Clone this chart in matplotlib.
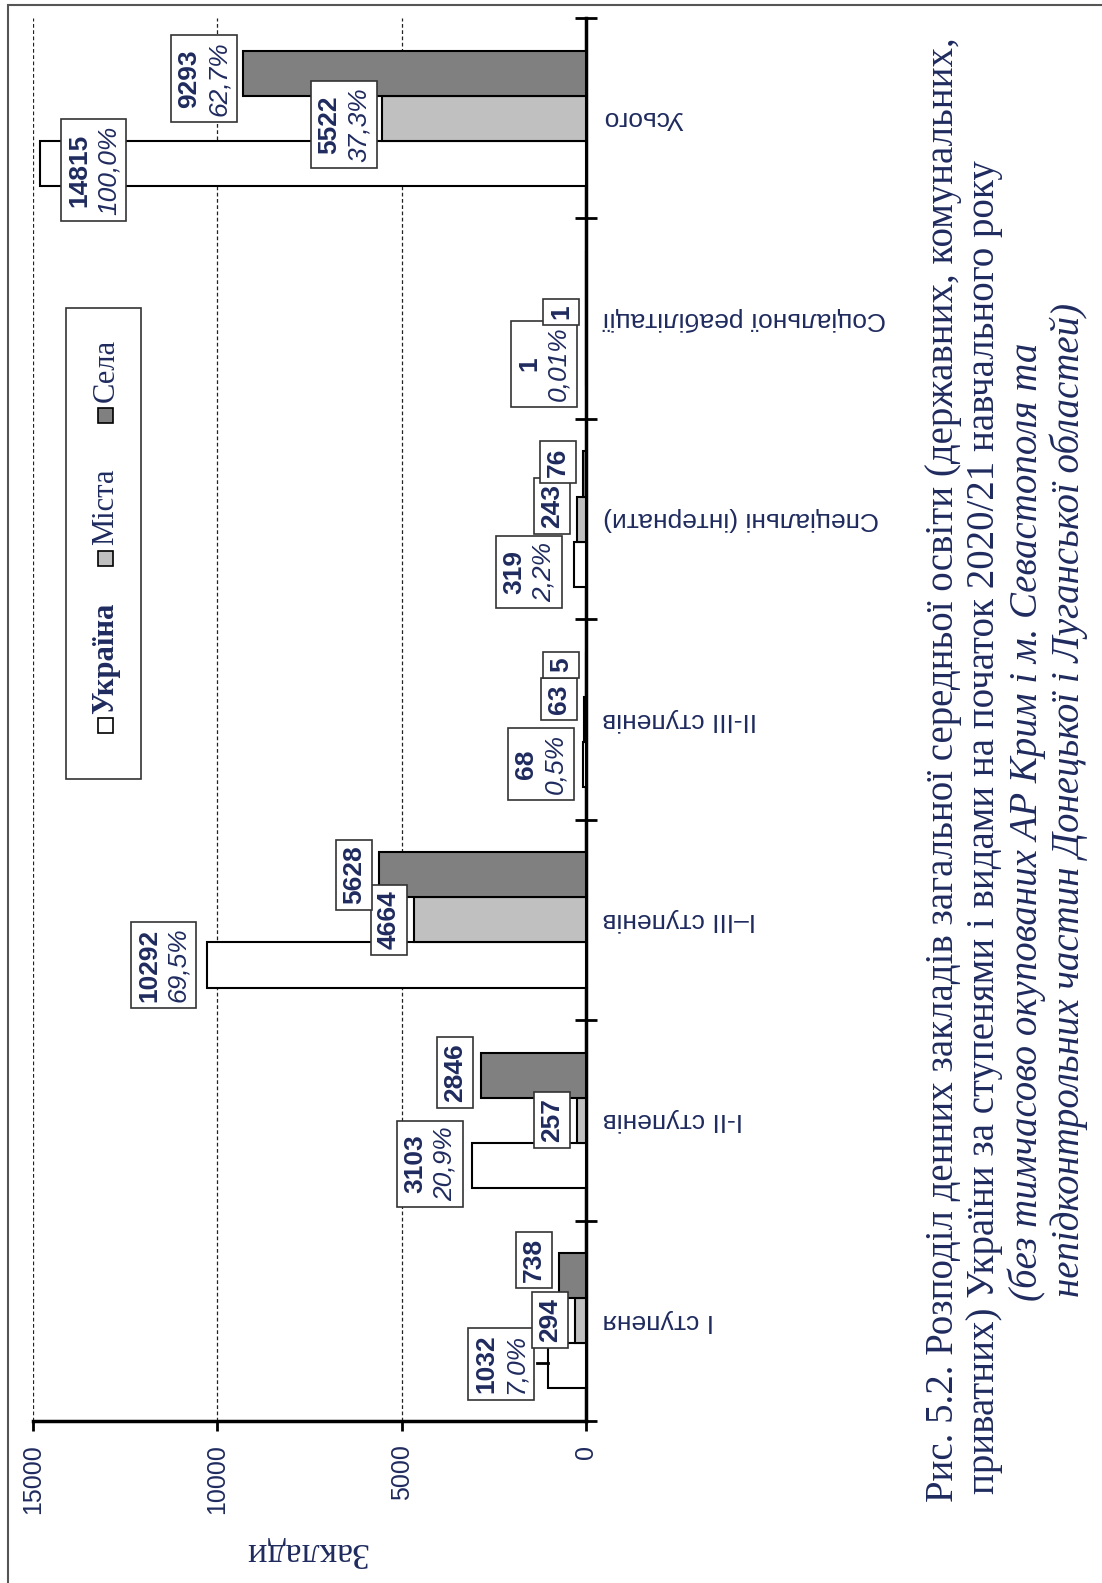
import numpy as np
import matplotlib.pyplot as plt
from matplotlib.patches import Rectangle
from matplotlib.transforms import Bbox

plt.rcParams['font.family'] = ['Liberation Sans', 'DejaVu Sans']

# data
categories = ['І ступеня', 'І-ІІ ступенів', 'І–ІІІ ступенів', 'ІІ-ІІІ ступенів',
              'Спеціальні (інтернати)', 'Соціальної реабілітації', 'Усього']
series = ['Україна', 'Міста', 'Села']
ukraine = [1032, 3103, 10292, 68, 319, 1, 14815]
cities = [294, 257, 4664, 63, 243, 0, 5522]
villages = [738, 2846, 5628, 5, 76, 1, 9293]
ukraine_pct = ['7,0%', '20,9%', '69,5%', '0,5%', '2,2%', '0,01%', '100,0%']
cities_pct = [None, None, None, None, None, None, '37,3%']
villages_pct = [None, None, None, None, None, None, '62,7%']
x_ticks = [0, 5000, 10000, 15000]

caption = ['Рис. 5.2. Розподіл денних закладів загальної середньої освіти (державних, комунальних,',
           'приватних) України за ступенями і видами на початок 2020/21 навчального року',
           '(без тимчасово окупованих АР Крим і м. Севастополя та',
           'непідконтрольних частин Донецької і Луганської областей)']

navy = '#1f2b5e'
colors = ['white', '#c0c0c0', '#808080']
W, H = 1102, 1583

# label box centres (value-axis units, offset from category centre)
lab_x = [[2306, 4232, 11449, 1221, 1546, 1139, 13348],
         [977, 922, 5345, 732, 922, None, 6565],
         [1411, 3554, 6294, 678, 760, 678, 10363]]
lab_dy = [[-0.216, -0.218, -0.225, -0.222, -0.263, -0.226, -0.258],
          [0.004, 0.002, 0.0, 0.103, 0.066, 0.0, -0.033],
          [0.303, 0.237, 0.224, 0.272, 0.285, 0.034, 0.197]]

fig = plt.figure(figsize=(W / 100, H / 100), dpi=100)
ax = fig.add_axes([33 / W, 1 - 1421 / H, (586 - 33) / W, (1421 - 18) / H])

y = np.arange(len(categories))
bw = 0.225
values = [ukraine, cities, villages]
pcts = [ukraine_pct, cities_pct, villages_pct]
for i, vals in enumerate(values):
    ax.barh(y + (i - 1) * bw, vals, height=bw, color=colors[i],
            edgecolor='black', linewidth=1.5, zorder=3)

ax.set_xlim(15000, 0)
ax.set_ylim(-0.5, len(categories) - 0.5)

for sp in ['top', 'left']:
    ax.spines[sp].set_visible(False)
ax.spines['right'].set_linewidth(2.5)
ax.spines['bottom'].set_linewidth(2.5)

ax.set_xticks(x_ticks)
ax.set_xticklabels([str(t) for t in x_ticks], rotation=90, color=navy, fontsize=18)
ax.tick_params(axis='x', direction='out', length=7, width=2, pad=10)
ax.grid(axis='x', linestyle=(0, (3, 2)), color='#222222', linewidth=0.9, zorder=0)

ax.yaxis.tick_right()
ax.set_yticks(y)
ax.set_yticklabels(categories, rotation=180, color=navy, fontsize=19, va='center')
ax.tick_params(axis='y', which='major', length=0, pad=12)
ax.set_yticks(np.arange(-0.5, len(categories)), minor=True)
ax.tick_params(axis='y', which='minor', direction='inout', length=16, width=2)

# value labels: bold number + italic share, boxed together
labels = []
for i in range(3):
    for j in range(len(categories)):
        if lab_x[i][j] is None:
            continue
        pos = (lab_x[i][j], j + lab_dy[i][j])
        half = 10.5 if pcts[i][j] else 0
        parts = [ax.annotate(str(values[i][j]), pos, xytext=(-half, 0), textcoords='offset points',
                             rotation=90, ha='center', va='center', fontsize=19,
                             fontweight='bold', color=navy, zorder=6)]
        if pcts[i][j]:
            parts.append(ax.annotate(pcts[i][j], pos, xytext=(half, 0), textcoords='offset points',
                                     rotation=90, ha='center', va='center', fontsize=19,
                                     style='italic', color=navy, zorder=6))
        labels.append(parts)

fig.canvas.draw()
r = fig.canvas.get_renderer()
inv = ax.transAxes.inverted()
for parts in labels:
    bb = Bbox.union([t.get_window_extent(r) for t in parts])
    (x0, y0), (x1, y1) = inv.transform([[bb.x0 - 6, bb.y0 - 6], [bb.x1 + 6, bb.y1 + 6]])
    ax.add_patch(Rectangle((x0, y0), x1 - x0, y1 - y0, transform=ax.transAxes,
                           fc='white', ec='#333333', lw=1.2, zorder=5, clip_on=False))

# leader line for the first label
ax.plot([ukraine[0], 1329], [-0.211, -0.211], color='black', lw=2, zorder=4)

fig.text(306 / W, 1 - 1551 / H, 'Заклади', rotation=180, ha='center', va='center',
         family='Liberation Serif', fontsize=26, color=navy)

# legend
fig.patches.append(Rectangle((66 / W, 1 - 779 / H), 75 / W, 471 / H, transform=fig.transFigure,
                             fc='white', ec='#333333', lw=1.2, zorder=1))
mk_y = [726, 559, 416]
txt_y = [714, 545, 402]
for i, name in enumerate(series):
    fig.patches.append(Rectangle((98 / W, 1 - (mk_y[i] + 7) / H), 15 / W, 15 / H,
                                 transform=fig.transFigure, fc=colors[i], ec='black', lw=1.2, zorder=2))
    fig.text(106 / W, 1 - txt_y[i] / H, name, rotation=90, ha='center', va='bottom',
             family='Liberation Serif', fontsize=22, color=navy,
             fontweight='bold' if i == 0 else 'normal')

# caption
cap_x = [943, 985, 1027, 1069]
cap_y = [770, 827, 822, 800]
for k, line in enumerate(caption):
    fig.text(cap_x[k] / W, 1 - cap_y[k] / H, line, rotation=90, ha='center', va='center',
             family='Liberation Serif', fontsize=28, color=navy,
             style='italic' if k >= 2 else 'normal')

# page frame
fig.patches.append(Rectangle((8 / W, -0.1), 1.2, 1.1 - 5 / H, transform=fig.transFigure,
                             fc='none', ec='#555555', lw=1.5))

fig.savefig('out.png', dpi=100)
